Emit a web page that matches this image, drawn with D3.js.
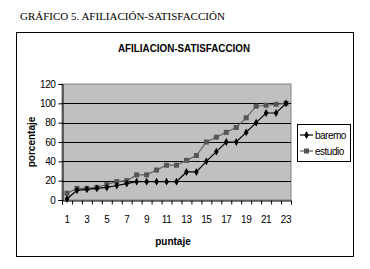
<!DOCTYPE html>
<html>
<head>
<meta charset="utf-8">
<script src="https://cdn.jsdelivr.net/npm/d3@7"></script>
<style>
  body { margin: 0; background: #fff; }
  svg { display: block; }
</style>
</head>
<body>
<svg id="chart" width="370" height="269"></svg>
<script>
const puntaje = d3.range(1, 24)
const baremo = [1, 10, 11, 12, 13, 15, 17, 19, 19, 19, 19, 19, 29, 29, 40, 50, 60, 60, 70, 80, 90, 90, 100]
const estudio = [7, 12, 12, 13, 16, 19, 20, 26, 26, 31, 36, 36, 41, 46, 60, 65, 70, 75, 85, 97, 98, 99, 100]
const yTicks = [0, 20, 40, 60, 80, 100, 120]
const xLabels = [1, 3, 5, 7, 9, 11, 13, 15, 17, 19, 21, 23]

const svg = d3.select("#chart")
const sans = "'Liberation Sans', Arial, sans-serif"

// caption above the chart
svg.append("text")
    .attr("x", 20).attr("y", 20)
    .attr("font-family", "'Liberation Serif', 'Times New Roman', serif")
    .attr("font-size", 11)
    .attr("fill", "#000")
    .text("GRÁFICO 5. AFILIACIÓN-SATISFACCIÓN")

// outer chart frame
svg.append("rect")
    .attr("x", 16.5).attr("y", 32.5)
    .attr("width", 337).attr("height", 224)
    .attr("fill", "#fff").attr("stroke", "#000").attr("stroke-width", 1)

svg.append("text")
    .attr("x", 184).attr("y", 52)
    .attr("text-anchor", "middle")
    .attr("font-family", sans).attr("font-weight", "bold")
    .attr("font-size", 11)
    .attr("textLength", 132).attr("lengthAdjust", "spacingAndGlyphs")
    .text("AFILIACION-SATISFACCION")

const x = d3.scaleBand().domain(puntaje).range([62, 291]).paddingInner(0).paddingOuter(0)
const xEdge = d3.scaleLinear().domain([0.5, 23.5]).range([62, 291])
const y = d3.scaleLinear().domain([0, 120]).range([200, 84])
const cx = d => x(d) + x.bandwidth() / 2

// plot area
svg.append("rect")
    .attr("x", 62).attr("y", 84)
    .attr("width", 229).attr("height", 116)
    .attr("fill", "#c0c0c0").attr("stroke", "#808080")

// gridlines
svg.append("g")
    .selectAll("line")
    .data(yTicks.filter(v => v > 0 && v < 120))
    .join("line")
    .attr("x1", 62).attr("x2", 291)
    .attr("y1", d => Math.round(y(d)) + 0.5).attr("y2", d => Math.round(y(d)) + 0.5)
    .attr("stroke", "#000").attr("stroke-width", 1)

// y axis
const yAxis = svg.append("g")
    .attr("transform", "translate(62.5,0)")
    .call(d3.axisLeft(y).tickValues(yTicks).tickSize(4).tickPadding(3))
yAxis.select(".domain").attr("stroke", "#000")
yAxis.selectAll("text").attr("font-family", sans).attr("font-size", 10)
    .attr("letter-spacing", -0.4).attr("fill", "#000")

// x axis: ticks on category edges
const xAxis = svg.append("g")
    .attr("transform", "translate(0,200.5)")
    .call(d3.axisBottom(xEdge).tickValues(d3.range(0.5, 24, 1)).tickSize(4).tickFormat(""))
xAxis.select(".domain").attr("stroke", "#000")

const xLab = svg.append("g")
    .attr("transform", "translate(0,200)")
    .call(d3.axisBottom(x).tickValues(xLabels).tickSize(0).tickPadding(16))
xLab.select(".domain").remove()
xLab.selectAll("text").attr("font-family", sans).attr("font-size", 10)
    .attr("letter-spacing", -0.4).attr("fill", "#000")

// axis titles
svg.append("text")
    .attr("x", 173).attr("y", 245)
    .attr("text-anchor", "middle")
    .attr("font-family", sans).attr("font-weight", "bold").attr("font-size", 10)
    .text("puntaje")

svg.append("text")
    .attr("transform", "translate(35,142) rotate(-90)")
    .attr("text-anchor", "middle")
    .attr("font-family", sans).attr("font-weight", "bold").attr("font-size", 10)
    .text("porcentaje")

// series
const line = d3.line().x((d, i) => cx(puntaje[i])).y(d => y(d))

svg.append("path")
    .datum(estudio)
    .attr("d", line)
    .attr("fill", "none").attr("stroke", "#606060").attr("stroke-width", 1.2)

svg.append("g")
    .selectAll("rect")
    .data(estudio)
    .join("rect")
    .attr("x", (d, i) => cx(puntaje[i]) - 2.5)
    .attr("y", d => y(d) - 2.5)
    .attr("width", 5).attr("height", 5)
    .attr("fill", "#555")

svg.append("path")
    .datum(baremo)
    .attr("d", line)
    .attr("fill", "none").attr("stroke", "#000").attr("stroke-width", 1.2)

const diamond = d3.symbol().type(d3.symbolDiamond).size(18)
svg.append("g")
    .selectAll("path")
    .data(baremo)
    .join("path")
    .attr("transform", (d, i) => `translate(${cx(puntaje[i])},${y(d)})`)
    .attr("d", diamond)
    .attr("fill", "#000")

// legend
const legend = svg.append("g")
legend.append("rect")
    .attr("x", 297.5).attr("y", 124.5)
    .attr("width", 53).attr("height", 37)
    .attr("fill", "#fff").attr("stroke", "#000")

const legendItems = [
    { name: "baremo", color: "#000", shape: "diamond" },
    { name: "estudio", color: "#606060", shape: "square" }
]
legendItems.forEach((item, i) => {
    const ly = 135 + i * 16
    legend.append("line")
        .attr("x1", 300).attr("x2", 313).attr("y1", ly).attr("y2", ly)
        .attr("stroke", item.color).attr("stroke-width", 1.2)
    if (item.shape === "diamond") {
        legend.append("path")
            .attr("transform", `translate(306.5,${ly})`)
            .attr("d", diamond).attr("fill", "#000")
    } else {
        legend.append("rect")
            .attr("x", 304).attr("y", ly - 2.5)
            .attr("width", 5).attr("height", 5).attr("fill", "#555")
    }
    legend.append("text")
        .attr("x", 315).attr("y", ly + 3.5)
        .attr("font-family", sans).attr("font-size", 10)
        .attr("letter-spacing", -0.5)
        .text(item.name)
})
</script>
</body>
</html>
